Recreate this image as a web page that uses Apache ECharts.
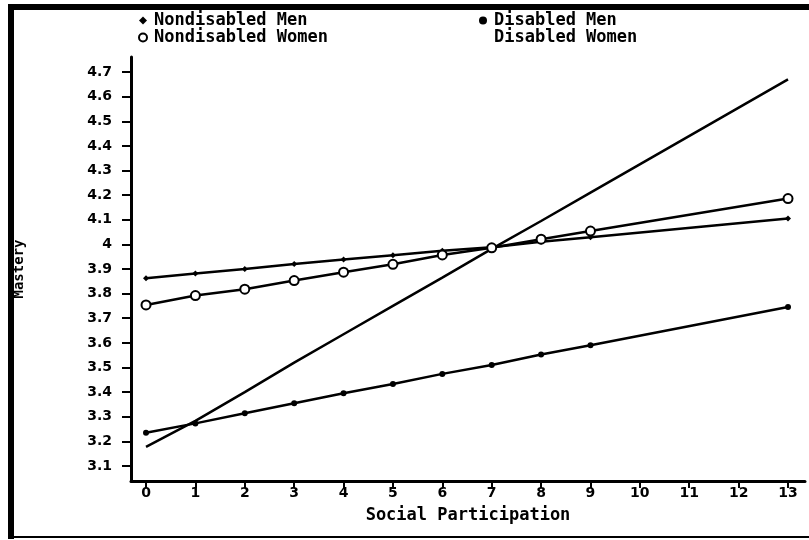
<!DOCTYPE html>
<html>
<head>
<meta charset="utf-8">
<script src="https://cdn.jsdelivr.net/npm/echarts@6/dist/echarts.min.js"></script>
<style>
  html, body { margin: 0; padding: 0; background: #fff; }
  #chart { width: 809px; height: 540px; }
</style>
</head>
<body>
<div id="chart"></div>
<script>
// Social participation scores (x) at which each group mean is plotted
const xValues = [0, 1, 2, 3, 4, 5, 6, 7, 8, 9, 13];

// Predicted mastery for each group
const nondisabledMen   = [3.862, 3.882, 3.900, 3.920, 3.939, 3.956, 3.974, 3.988, 4.011, 4.029, 4.105];
const nondisabledWomen = [3.754, 3.792, 3.818, 3.853, 3.887, 3.919, 3.957, 3.986, 4.021, 4.054, 4.186];
const disabledMen      = [3.235, 3.273, 3.314, 3.355, 3.395, 3.433, 3.474, 3.510, 3.553, 3.590, 3.746];
const disabledWomen    = [3.178, 3.283, 3.400, 3.520, 3.635, 3.750, 3.865, 3.982, 4.095, 4.210, 4.670];

// Tick positions and labels
const xTicks = [0, 1, 2, 3, 4, 5, 6, 7, 8, 9, 10, 11, 12, 13];
const yTicks = [3.1, 3.2, 3.3, 3.4, 3.5, 3.6, 3.7, 3.8, 3.9, 4.0, 4.1, 4.2, 4.3, 4.4, 4.5, 4.6, 4.7];

// Axis extents (the axis lines run a little past the end ticks)
const xExtent = [-0.304, 13.344];
const yExtent = [3.039, 4.761];

const seriesNames = ['Nondisabled Men', 'Nondisabled Women', 'Disabled Men', 'Disabled Women'];

const INK = '#000';
const tickFont = { color: INK, fontFamily: 'DejaVu Sans', fontWeight: 'bold', fontSize: 14 };
const titleFont = { color: INK, fontFamily: 'DejaVu Sans Mono', fontWeight: 'bold', fontSize: 17 };

const pairs = ys => xValues.map((x, i) => [x, ys[i]]);
const fmt = v => String(Math.round(v * 10) / 10);

const chart = echarts.init(document.getElementById('chart'), null, { renderer: 'canvas' });

const option = {
  backgroundColor: '#fff',
  animation: false,
  grid: {
    left: 131, right: 4, top: 57, bottom: 59,
    containLabel: false, outerBoundsMode: 'none'
  },
  xAxis: {
    type: 'value', min: xExtent[0], max: xExtent[1],
    axisLine: { show: true, onZero: false, lineStyle: { color: INK, width: 3 } },
    axisTick: { show: true, length: 7, customValues: xTicks, lineStyle: { color: INK, width: 2 } },
    axisLabel: Object.assign({ margin: 5, customValues: xTicks, formatter: fmt }, tickFont),
    splitLine: { show: false },
    name: 'Social Participation', nameLocation: 'middle', nameGap: 26,
    nameTextStyle: titleFont
  },
  yAxis: {
    type: 'value', min: yExtent[0], max: yExtent[1],
    axisLine: { show: true, onZero: false, lineStyle: { color: INK, width: 3 } },
    axisTick: { show: true, length: 9, customValues: yTicks, lineStyle: { color: INK, width: 2 } },
    axisLabel: Object.assign({ margin: 19, customValues: yTicks, formatter: fmt }, tickFont),
    splitLine: { show: false },
    name: 'Mastery', nameLocation: 'middle', nameGap: 105, nameRotate: 90,
    nameTextStyle: { color: INK, fontFamily: 'DejaVu Sans Mono', fontWeight: 'bold', fontSize: 14 }
  },
  legend: [
    {
      left: 133, top: 7, orient: 'vertical', itemGap: 0,
      itemWidth: 8, itemHeight: 8,
      textStyle: Object.assign({ padding: [0, 0, 0, 2] }, titleFont),
      selectedMode: false,
      data: [
        { name: seriesNames[0], icon: 'diamond', itemStyle: { color: INK } },
        { name: seriesNames[1], icon: 'circle', itemStyle: { color: '#fff', borderColor: INK, borderWidth: 2 } }
      ]
    },
    {
      left: 474, top: 7, orient: 'vertical', itemGap: 0,
      itemWidth: 8, itemHeight: 8,
      textStyle: Object.assign({ padding: [0, 0, 0, 2] }, titleFont),
      selectedMode: false,
      data: [
        { name: seriesNames[2], icon: 'circle', itemStyle: { color: INK } },
        { name: seriesNames[3], icon: 'circle', itemStyle: { opacity: 0 } }
      ]
    }
  ],
  graphic: [
    // page frame: heavy top and left rules, light bottom rule
    { type: 'rect', shape: { x: 8, y: 4, width: 801, height: 6 }, style: { fill: INK }, silent: true },
    { type: 'rect', shape: { x: 8, y: 4, width: 6, height: 535 }, style: { fill: INK }, silent: true },
    { type: 'rect', shape: { x: 8, y: 536, width: 801, height: 2 }, style: { fill: INK }, silent: true }
  ],
  series: [
    {
      name: seriesNames[0], type: 'line',
      data: pairs(nondisabledMen),
      symbol: 'diamond', symbolSize: 6,
      lineStyle: { color: INK, width: 2.5 }, itemStyle: { color: INK }
    },
    {
      name: seriesNames[1], type: 'line',
      data: pairs(nondisabledWomen),
      symbol: 'circle', symbolSize: 9,
      lineStyle: { color: INK, width: 2.5 },
      itemStyle: { color: '#fff', borderColor: INK, borderWidth: 2 }
    },
    {
      name: seriesNames[2], type: 'line',
      data: pairs(disabledMen),
      symbol: 'circle', symbolSize: 6,
      lineStyle: { color: INK, width: 2.5 }, itemStyle: { color: INK }
    },
    {
      name: seriesNames[3], type: 'line',
      data: pairs(disabledWomen),
      symbol: 'none',
      lineStyle: { color: INK, width: 2.5 }, itemStyle: { color: INK }
    }
  ]
};

chart.setOption(option);
</script>
</body>
</html>
